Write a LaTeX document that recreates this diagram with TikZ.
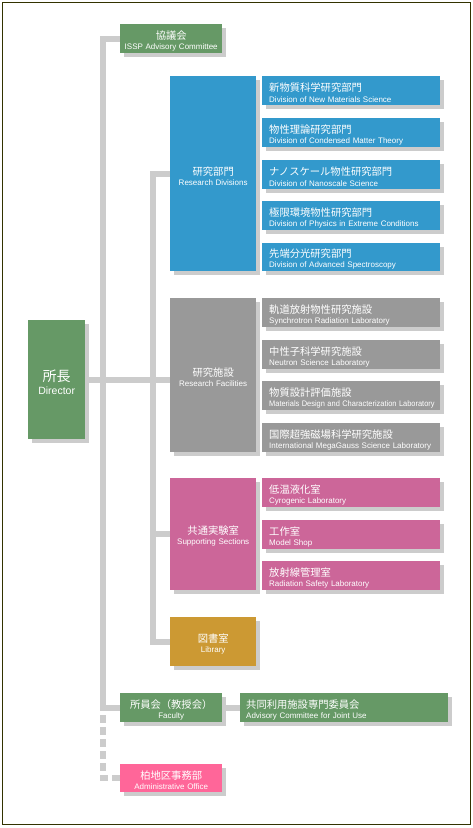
\documentclass[tikz,border=0pt]{standalone}
\usepackage{fontspec}
\setmainfont{Liberation Sans}
\newfontfamily\jpfont{Noto Sans CJK JP}
\usetikzlibrary{backgrounds,shadows}
\definecolor{cgreen}{HTML}{669966}
\definecolor{cblue}{HTML}{3399CC}
\definecolor{cgray}{HTML}{999999}
\definecolor{cmauve}{HTML}{CC6699}
\definecolor{cgold}{HTML}{CC9933}
\definecolor{cpink}{HTML}{FF6699}
\definecolor{shc}{HTML}{CCCCCC}
\definecolor{frame}{HTML}{333300}
\newcommand\jt[1]{{\jpfont\fontsize{10.3}{12}\selectfont #1}}
\begin{document}
\begin{tikzpicture}[x=1pt,y=-1pt,
  tshift/.style={execute at begin node={\rule{0pt}{#1}}},
  obox/.style={rectangle, anchor=north west, inner sep=0pt, text=white, fill=#1,
    drop shadow={shadow xshift=3.5pt,shadow yshift=-4pt,fill=shc,opacity=1}},
  bigbox/.style={obox=#1, minimum width=86pt, text width=86pt, align=center,
    font=\fontsize{8}{10}\selectfont, tshift=13pt},
  subbox/.style={obox=#1, minimum width=178pt, minimum height=28.7pt, text width=164pt,
    inner xsep=7pt, align=left, font=\fontsize{8}{10.3}\selectfont, tshift=13pt},
  smbox/.style={obox=#1, minimum width=102pt, text width=102pt, minimum height=28.7pt, align=center,
    font=\fontsize{8}{10.3}\selectfont, tshift=13pt},
  conn/.style={draw=shc, line width=6pt, line join=miter}
]
\useasboundingbox (0,0) rectangle (472,828);
\draw[frame, line width=1pt] (2.5,2.5) rectangle (470.5,824.5);

% top-level nodes
\node[smbox=cgreen] (council) at (120,24) {\jt{協議会}\\ISSP Advisory Committee};
\node[obox=cgreen, minimum width=57pt, text width=57pt, minimum height=119pt, align=center,
  font=\fontsize{10.5}{12.5}\selectfont, tshift=17pt] (dir) at (28,320)
  {{\jpfont\fontsize{14}{16}\selectfont 所長}\\Director};

% research divisions
\node[bigbox=cblue, minimum height=194.7pt] (rd) at (170,76) {\jt{研究部門}\\Research Divisions};
\node[subbox=cblue] (rd1) at (262,76) {\jt{新物質科学研究部門}\\Division of New Materials Science};
\node[subbox=cblue] (rd2) at (262,118) {\jt{物性理論研究部門}\\Division of Condensed Matter Theory};
\node[subbox=cblue] (rd3) at (262,160) {\jt{ナノスケール物性研究部門}\\Division of Nanoscale Science};
\node[subbox=cblue] (rd4) at (262,201) {\jt{極限環境物性研究部門}\\Division of Physics in Extreme Conditions};
\node[subbox=cblue] (rd5) at (262,242.5) {\jt{先端分光研究部門}\\Division of Advanced Spectroscopy};

% research facilities
\node[bigbox=cgray, minimum height=154pt] (rf) at (170,298) {\jt{研究施設}\\Research Facilities};
\node[subbox=cgray] (rf1) at (262,298) {\jt{軌道放射物性研究施設}\\Synchrotron Radiation Laboratory};
\node[subbox=cgray] (rf2) at (262,340) {\jt{中性子科学研究施設}\\Neutron Science Laboratory};
\node[subbox=cgray] (rf3) at (262,381) {\jt{物質設計評価施設}\\\scalebox{0.93}[1]{Materials Design and Characterization Laboratory}};
\node[subbox=cgray] (rf4) at (262,423) {\jt{国際超強磁場科学研究施設}\\International MegaGauss Science Laboratory};

% supporting sections
\node[bigbox=cmauve, minimum height=111.7pt] (ss) at (170,478) {\jt{共通実験室}\\Supporting Sections};
\node[subbox=cmauve] (ss1) at (262,478) {\jt{低温液化室}\\Cyrogenic Laboratory};
\node[subbox=cmauve] (ss2) at (262,520) {\jt{工作室}\\Model Shop};
\node[subbox=cmauve] (ss3) at (262,561) {\jt{放射線管理室}\\Radiation Safety Laboratory};

% library
\node[bigbox=cgold, minimum height=48.7pt] (lib) at (170,617) {\jt{図書室}\\Library};

% faculty etc.
\node[smbox=cgreen] (fac) at (120,693) {\jt{所員会（教授会）}\\Faculty};
\node[obox=cgreen, minimum width=208pt, minimum height=28.7pt, text width=196pt,
  inner xsep=6pt, align=left, font=\fontsize{8}{10.3}\selectfont, tshift=13pt] (joint) at (240,693)
  {\jt{共同利用施設専門委員会}\\Advisory Committee for Joint Use};
\node[smbox=cpink, minimum height=27.7pt] (adm) at (120,764) {\jt{柏地区事務部}\\Administrative Office};

% connectors
\coordinate (t1) at (103,0);
\coordinate (t2) at (153,0);
\begin{scope}[on background layer]
  \draw[conn] (council.west) -| (t1 |- fac.west) -- (fac.west);
  \draw[conn] (dir.east) -- (dir.east -| rf.west);
  \draw[conn] (rd.west) -| (t2 |- lib.west) -- (lib.west);
  \draw[conn] (ss.west) -- (t2 |- ss.west);
  \draw[conn] (fac.east) -- (joint.west);
  \draw[conn, dash pattern=on 8pt off 4pt, dash phase=4.5pt]
    (t1 |- fac.west) -- (t1 |- adm.west) -- (adm.west);
\end{scope}
\end{tikzpicture}
\end{document}
